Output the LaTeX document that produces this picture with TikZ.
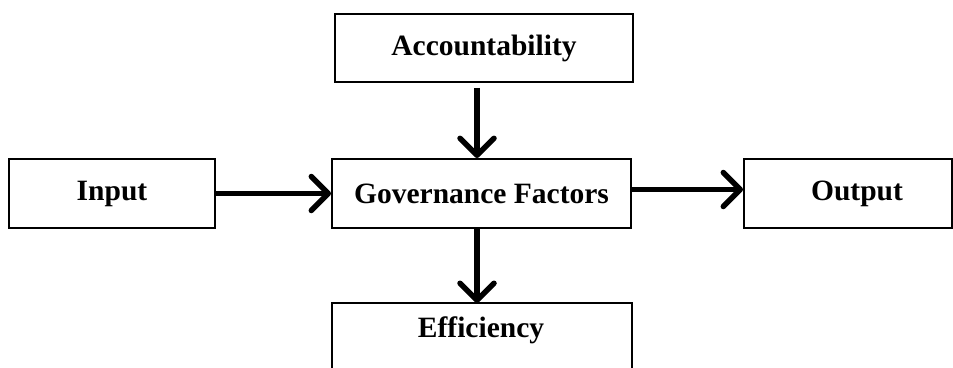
\documentclass[tikz,border=0pt]{standalone}
\usepackage{fontspec}
\setmainfont{Liberation Serif}
\usetikzlibrary{arrows.meta}
\begin{document}
\begin{tikzpicture}[x=1pt,y=-1pt,
  box/.style={draw, line width=1.9pt, inner sep=0pt, font=\fontsize{29.5}{35}\selectfont\bfseries},
  lbl/.style={inner sep=0pt, font=\fontsize{29.5}{35}\selectfont\bfseries},
  arr/.style={line width=5.5pt, -{Straight Barb[length=17pt,width=34pt,line cap=round,line join=round]}}]
\clip (0,0) rectangle (953,367);
\node[box, minimum width=298pt, minimum height=68pt] (acc) at (484,48) {Accountability};
\node[box, minimum width=299pt, minimum height=69pt] (gov) at (481.5,193.5) {Governance Factors};
\node[box, minimum width=206pt, minimum height=69pt] (inp) at (112,193.5) {Input};
\node[box, minimum width=208pt, minimum height=69pt] (out) at (848,193.5) {\hspace*{18pt}Output};
\node[minimum width=300pt, minimum height=100pt, inner sep=0pt, anchor=north] (eff) at (482,303) {};
\draw[line width=1.9pt] (eff.south west) -- (eff.north west) -- (eff.north east) -- (eff.south east);
\node[lbl] (efft) at (481,330) {Efficiency};
\draw[arr, shorten <=5pt] ([xshift=-7pt]acc.south) -- ([xshift=-4.5pt]gov.north);
\draw[arr] ([xshift=-4.5pt]gov.south) -- ([xshift=-5pt]eff.north);
\draw[arr] (inp.east) -- (inp.east -| gov.west);
\draw[arr] ([yshift=4pt]gov.east) -- ([yshift=4pt]gov.east -| out.west);
\end{tikzpicture}
\end{document}
